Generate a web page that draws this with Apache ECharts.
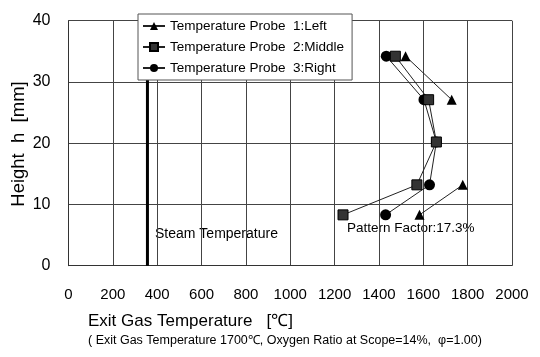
<!DOCTYPE html>
<html><head><meta charset="utf-8">
<script src="https://cdn.jsdelivr.net/npm/echarts@6/dist/echarts.min.js"></script>
<style>html,body{margin:0;padding:0;background:#fff}#c{width:540px;height:357px}</style>
</head><body><div id="c"></div>
<script>
const heights = [34.2, 27.1, 20.2, 13.2, 8.3];
const leftTemps = [1520, 1728, null, 1778, 1583];
const middleTemps = [1474, 1624, 1659, 1571, 1238];
const rightTemps = [1433, 1603, 1659, 1628, 1430];
const seriesNames = ['Temperature Probe  1:Left', 'Temperature Probe  2:Middle', 'Temperature Probe  3:Right'];
const steamTemp = 356;
const steamRange = [0, 40];
const xTicks = [0, 200, 400, 600, 800, 1000, 1200, 1400, 1600, 1800, 2000];
const yTicks = [0, 10, 20, 30, 40];

const chart = echarts.init(document.getElementById('c'));
const font = 'Liberation Sans, Arial, sans-serif';
function pts(t) { return t.map((v, i) => [v, heights[i]]); }
const symbols = ['triangle', 'rect', 'circle'];
const sizes = [10, 10, 11];
const temps = [leftTemps, middleTemps, rightTemps];
const series = temps.map((t, k) => ({
  name: seriesNames[k], type: 'line', data: pts(t), connectNulls: false,
  symbol: symbols[k], symbolSize: sizes[k], z: 5 - k,
  lineStyle: { color: '#222', width: 1 },
  itemStyle: { color: k === 1 ? '#333' : '#000', borderColor: '#000', borderWidth: k === 1 ? 1 : 0 }
}));
series.push({
  type: 'line', data: steamRange.map(h => [steamTemp, h]), symbol: 'none',
  lineStyle: { color: '#000', width: 3 }, z: 1, silent: true
});
chart.setOption({
  animation: false,
  backgroundColor: '#fff',
  grid: { left: 68.5, right: 28, top: 20.7, bottom: 91.3 },
  xAxis: {
    type: 'value', min: xTicks[0], max: xTicks[xTicks.length - 1], interval: 200,
    axisLine: { show: true, lineStyle: { color: '#333' } }, axisTick: { show: false },
    splitLine: { show: true, lineStyle: { color: '#444', width: 1 } },
    axisLabel: { color: '#000', fontSize: 15, fontFamily: font, margin: 22, formatter: v => String(v) }
  },
  yAxis: {
    type: 'value', min: yTicks[0], max: yTicks[yTicks.length - 1], interval: 10,
    axisLine: { show: true, lineStyle: { color: '#333' } }, axisTick: { show: false },
    splitLine: { show: true, lineStyle: { color: '#444', width: 1 } },
    axisLabel: { color: '#000', fontSize: 16, fontFamily: font, margin: 18, formatter: v => String(v) }
  },
  legend: {
    data: seriesNames, orient: 'vertical', left: 138, top: 14,
    backgroundColor: '#fff', borderColor: '#555', borderWidth: 1,
    padding: [5, 8, 5, 4], itemGap: 7, itemWidth: 22, itemHeight: 10,
    textStyle: { color: '#000', fontSize: 13.5, fontFamily: font }
  },
  graphic: [
    { type: 'text', x: 19, y: 144, rotation: Math.PI / 2, style: { text: 'Height  h  [mm]', fontSize: 18.5, fontFamily: font, fill: '#000', align: 'center', verticalAlign: 'middle' } },
    { type: 'text', left: 88, top: 313, style: { text: 'Exit Gas Temperature   [\u2103]', fontSize: 17, fontFamily: font, fill: '#000' } },
    { type: 'text', left: 88, top: 334, style: { text: '( Exit Gas Temperature 1700\u2103, Oxygen Ratio at Scope=14%,  \u03c6=1.00)', fontSize: 12.5, fontFamily: font, fill: '#000' } },
    { type: 'text', left: 155, top: 227, style: { text: 'Steam Temperature', fontSize: 14, fontFamily: font, fill: '#000' } },
    { type: 'text', left: 347, top: 221, style: { text: 'Pattern Factor:17.3%', fontSize: 13.5, fontFamily: font, fill: '#000' } }
  ],
  series: series
});
</script></body></html>
